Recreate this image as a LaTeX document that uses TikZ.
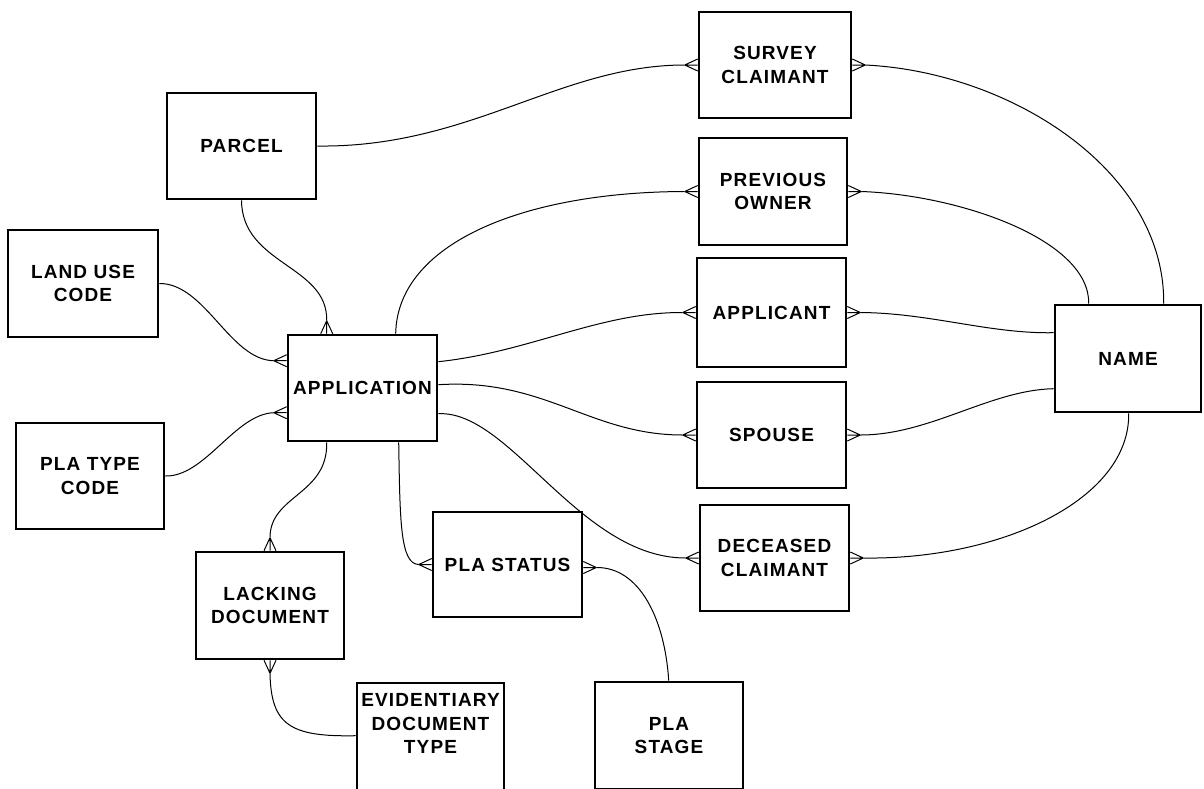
\documentclass[tikz,border=0pt]{standalone}
\usepackage{fontspec}
\newfontfamily\erfont{Liberation Sans}[LetterSpace=6]
\usetikzlibrary{calc}

\tikzset{
  entity/.style={draw, line width=2.6pt, fill=white, rectangle, inner sep=0pt,
    minimum width=149pt, minimum height=106pt, align=center,
    font=\erfont\bfseries\fontsize{19}{23.5}\selectfont},
  label/.style={inner sep=0pt, align=center,
    font=\erfont\bfseries\fontsize{19}{23.5}\selectfont},
  conn/.style={draw, line width=1pt}
}

% crow's foot prongs; #1 is the point on the box edge, #1-f the fork point
\newcommand\crowW[1]{\draw[conn] ($(#1)+(-13,0)$) coordinate (#1-f) -- ($(#1)+(0,-6)$) (#1-f) -- (#1) (#1-f) -- ($(#1)+(0,6)$);}
\newcommand\crowE[1]{\draw[conn] ($(#1)+(13,0)$) coordinate (#1-f) -- ($(#1)+(0,-6)$) (#1-f) -- (#1) (#1-f) -- ($(#1)+(0,6)$);}
\newcommand\crowN[1]{\draw[conn] ($(#1)+(0,-13)$) coordinate (#1-f) -- ($(#1)+(-6,0)$) (#1-f) -- (#1) (#1-f) -- ($(#1)+(6,0)$);}
\newcommand\crowS[1]{\draw[conn] ($(#1)+(0,13)$) coordinate (#1-f) -- ($(#1)+(-6,0)$) (#1-f) -- (#1) (#1-f) -- ($(#1)+(6,0)$);}

\begin{document}
\begin{tikzpicture}[x=1pt,y=-1pt]
\useasboundingbox (0,0) rectangle (1204,788);

% entities
\node[entity, minimum width=149pt, minimum height=106pt] (parcel) at (241.5,146) {PARCEL};
\node[entity, minimum width=152pt, minimum height=106pt] (sc)     at (775,65)    {SURVEY\\CLAIMANT};
\node[entity, minimum width=148pt, minimum height=107pt] (prev)   at (773,191.5) {PREVIOUS\\OWNER};
\node[entity, minimum width=149pt, minimum height=109pt] (appl)   at (771.5,312.5) {APPLICANT};
\node[entity, minimum width=149pt, minimum height=106pt] (spouse) at (771.5,435) {SPOUSE};
\node[entity, minimum width=149pt, minimum height=106pt] (dec)    at (774.5,558) {DECEASED\\CLAIMANT};
\node[entity, minimum width=146pt, minimum height=107pt] (name)   at (1128,358.5) {NAME};
\node[entity, minimum width=150pt, minimum height=107pt] (lu)     at (83,283.5)  {LAND USE\\CODE};
\node[entity, minimum width=149pt, minimum height=106pt] (app)    at (362.5,388) {APPLICATION};
\node[entity, minimum width=148pt, minimum height=106pt] (pt)     at (90,476)    {PLA TYPE\\CODE};
\node[entity, minimum width=148pt, minimum height=107pt] (lack)   at (270,605.5) {LACKING\\DOCUMENT};
\node[entity, minimum width=149pt, minimum height=105pt] (ps)     at (507.5,564.5) {PLA STATUS};
\node[entity, minimum width=147pt, minimum height=107pt] (ev)     at (430.5,736.5) {};
\node[label] (evt) at (430.5,723.5) {EVIDENTIARY\\DOCUMENT\\TYPE};
\node[entity, minimum width=148pt, minimum height=107pt] (stage)  at (669,735.5) {PLA\\STAGE};

% edge points carrying a crow's foot
\coordinate (sc-w)   at (sc.west);
\coordinate (sc-e)   at (sc.east);
\coordinate (prev-w) at (prev.west);
\coordinate (prev-e) at (prev.east);
\coordinate (appl-w) at (appl.west);
\coordinate (appl-e) at (appl.east);
\coordinate (sp-w)   at (spouse.west);
\coordinate (sp-e)   at (spouse.east);
\coordinate (dec-w)  at (dec.west);
\coordinate (dec-e)  at (dec.east);
\coordinate (app-n)  at ($(app.north west)+(40,0)$);
\coordinate (app-w1) at ($(app.north west)+(0,27)$);
\coordinate (app-w2) at ($(app.north west)+(0,79)$);
\coordinate (lack-n) at (lack.north);
\coordinate (lack-s) at (lack.south);
\coordinate (ps-w)   at (ps.west);
\coordinate (ps-e)   at ($(ps.east)+(0,3)$);

\crowW{sc-w} \crowE{sc-e}
\crowW{prev-w} \crowE{prev-e}
\crowW{appl-w} \crowE{appl-e}
\crowW{sp-w} \crowE{sp-e}
\crowW{dec-w} \crowE{dec-e}
\crowN{app-n} \crowW{app-w1} \crowW{app-w2}
\crowN{lack-n} \crowS{lack-s}
\crowW{ps-w} \crowE{ps-e}

% relationships
\draw[conn] (parcel.east) .. controls (470,148) and (560,65) .. (sc-w-f);
\draw[conn] (parcel.south) .. controls (242,265) and (328,265) .. (app-n-f);
\draw[conn] (lu.east) .. controls (205,283) and (230,360) .. (app-w1-f);
\draw[conn] (pt.east) .. controls (205,477) and (235,414) .. (app-w2-f);
\draw[conn] ($(app.north west)+(109,0)$) .. controls (397,245) and (520,192) .. (prev-w-f);
\draw[conn] ($(app.north east)+(0,28)$) .. controls (530,352) and (600,312) .. (appl-w-f);
\draw[conn] ($(app.north east)+(0,51)$) .. controls (545,378) and (590,435) .. (sp-w-f);
\draw[conn] ($(app.north east)+(0,80)$) .. controls (510,410) and (580,558) .. (dec-w-f);
\draw[conn] ($(app.south west)+(112,0)$) .. controls (400,520) and (400,564) .. (ps-w-f);
\draw[conn] ($(app.south west)+(40,0)$) .. controls (328,495) and (270,495) .. (lack-n-f);
\draw[conn] (lack-s-f) .. controls (271,725) and (290,737) .. ($(ev.north west)+(0,54)$);
\draw[conn] (ps-e-f) .. controls (640,567) and (665,620) .. ($(stage.north west)+(75,0)$);
\draw[conn] (sc-e-f) .. controls (1010,72) and (1165,170) .. ($(name.north west)+(110,0)$);
\draw[conn] (prev-e-f) .. controls (960,195) and (1090,240) .. ($(name.north west)+(35,0)$);
\draw[conn] (appl-e-f) .. controls (930,313) and (990,334) .. ($(name.north west)+(0,29)$);
\draw[conn] (sp-e-f) .. controls (930,435) and (990,390) .. ($(name.north west)+(0,85)$);
\draw[conn] (dec-e-f) .. controls (1000,560) and (1130,500) .. ($(name.south west)+(75,0)$);
\end{tikzpicture}
\end{document}
